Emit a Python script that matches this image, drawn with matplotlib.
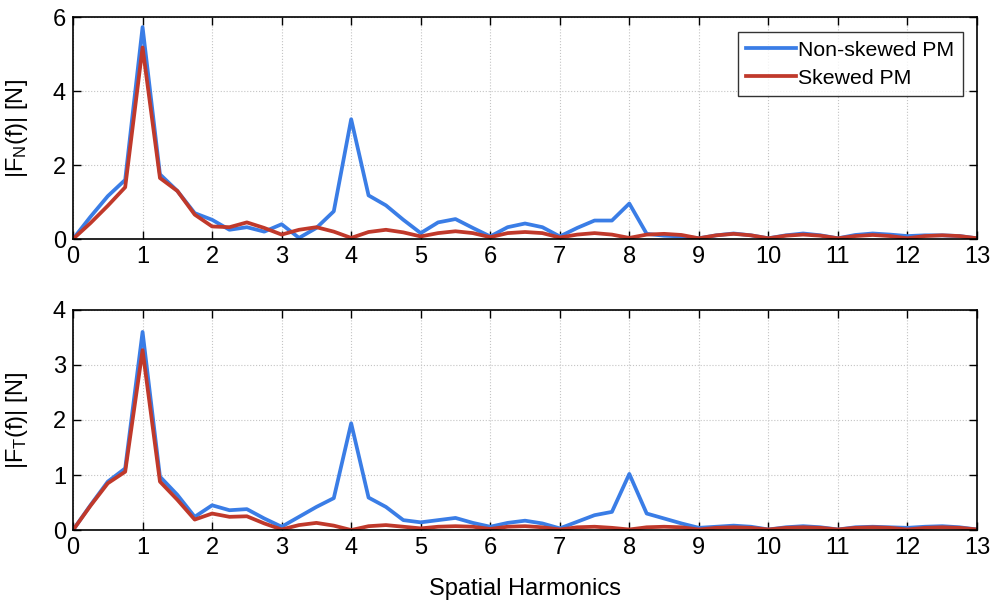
import numpy as np
import matplotlib
matplotlib.use("Agg")
import matplotlib.pyplot as plt

plt.rcParams['font.family'] = ['Liberation Sans', 'DejaVu Sans']
plt.rcParams['mathtext.default'] = 'regular'

# harmonic order, sampled every quarter
harmonics = np.arange(0, 13.25, 0.25)
xticks = list(range(0, 14))

# normal force spectrum |F_N(f)|
fn_nonskewed = [0, 0.6, 1.16, 1.6, 5.73, 1.75, 1.3, 0.7, 0.52, 0.25, 0.32, 0.2, 0.4,
                0.03, 0.3, 0.75, 3.24, 1.18, 0.91, 0.52, 0.16, 0.45, 0.54, 0.3, 0.07,
                0.32, 0.42, 0.32, 0.07, 0.3, 0.5, 0.5, 0.96, 0.14, 0.09, 0.07, 0.02,
                0.1, 0.15, 0.1, 0.02, 0.1, 0.15, 0.1, 0.02, 0.11, 0.15, 0.12, 0.08,
                0.1, 0.1, 0.08, 0.02]
fn_skewed = [0, 0.43, 0.9, 1.4, 5.18, 1.65, 1.3, 0.66, 0.34, 0.32, 0.45, 0.3, 0.12,
             0.25, 0.32, 0.2, 0.03, 0.19, 0.25, 0.18, 0.07, 0.16, 0.21, 0.16, 0.05,
             0.16, 0.19, 0.16, 0.04, 0.12, 0.16, 0.12, 0.03, 0.12, 0.14, 0.11, 0.02,
             0.1, 0.14, 0.1, 0.02, 0.09, 0.12, 0.09, 0.02, 0.08, 0.11, 0.08, 0.02,
             0.08, 0.1, 0.08, 0.02]

# tangential force spectrum |F_T(f)|
ft_nonskewed = [0, 0.45, 0.88, 1.12, 3.6, 0.97, 0.64, 0.24, 0.45, 0.36, 0.38, 0.21, 0.06,
                0.24, 0.42, 0.58, 1.94, 0.59, 0.42, 0.18, 0.14, 0.18, 0.22, 0.13, 0.06,
                0.13, 0.17, 0.12, 0.03, 0.15, 0.27, 0.33, 1.02, 0.3, 0.21, 0.12, 0.04,
                0.06, 0.08, 0.06, 0.01, 0.05, 0.07, 0.05, 0.01, 0.05, 0.06, 0.05, 0.04,
                0.06, 0.07, 0.05, 0.01]
ft_skewed = [0, 0.44, 0.85, 1.06, 3.27, 0.88, 0.55, 0.19, 0.3, 0.24, 0.25, 0.12, 0.01,
             0.09, 0.13, 0.08, 0.0, 0.07, 0.09, 0.06, 0.03, 0.06, 0.07, 0.06, 0.02,
             0.06, 0.07, 0.05, 0.01, 0.05, 0.06, 0.04, 0.01, 0.05, 0.06, 0.05, 0.01,
             0.04, 0.05, 0.04, 0.01, 0.04, 0.05, 0.04, 0.01, 0.04, 0.05, 0.04, 0.01,
             0.04, 0.05, 0.04, 0.01]

blue = '#3a7de6'
red = '#c0392b'

fig = plt.figure(figsize=(9.95, 6.03), dpi=100)
ax1 = fig.add_axes([0.0734, 0.6036, 0.9085, 0.368])
ax2 = fig.add_axes([0.0734, 0.121, 0.9085, 0.365])


def style(ax, ymax, yticks, ylabel):
    ax.set_xlim(0, 13)
    ax.set_ylim(0, ymax)
    ax.set_xticks(xticks)
    ax.set_yticks(yticks)
    ax.tick_params(direction='in', top=True, right=True, length=6, width=1,
                   labelsize=17, pad=5)
    ax.grid(True, linestyle=':', color='#c4c4c4', linewidth=0.8)
    for s in ax.spines.values():
        s.set_linewidth(1.2)
    ax.set_ylabel(ylabel, fontsize=17)
    ax.yaxis.set_label_coords(-0.048, 0.5)


ax1.plot(harmonics, fn_nonskewed, color=blue, lw=2.7, label='Non-skewed PM')
ax1.plot(harmonics, fn_skewed, color=red, lw=2.7, label='Skewed PM')
style(ax1, 6, [0, 2, 4, 6], r'|F$_N$(f)| [N]')
leg = ax1.legend(loc='upper right', bbox_to_anchor=(0.9845, 0.932), fontsize=15.3,
                 frameon=True, fancybox=False, edgecolor='black', handlelength=2.35,
                 handletextpad=0.1, borderpad=0.4, labelspacing=0.42, borderaxespad=0)
leg.get_frame().set_linewidth(1.0)

ax2.plot(harmonics, ft_nonskewed, color=blue, lw=2.7)
ax2.plot(harmonics, ft_skewed, color=red, lw=2.7)
style(ax2, 4, [0, 1, 2, 3, 4], r'|F$_T$(f)| [N]')
ax2.set_xlabel('Spatial Harmonics', fontsize=17, labelpad=14)

fig.savefig('out.png', dpi=100)
